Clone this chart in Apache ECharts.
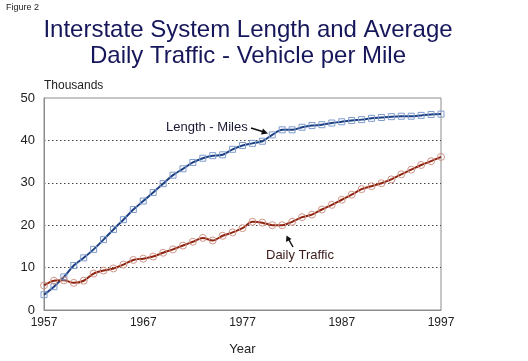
<!DOCTYPE html>
<html><head><meta charset="utf-8">
<script src="https://cdn.jsdelivr.net/npm/echarts@6/dist/echarts.min.js"></script>
<style>html,body{margin:0;padding:0;background:#fff}#c{width:528px;height:361px}</style>
</head><body><div id="c"></div>
<script>
const years = [];
for (let y = 1957; y <= 1997; y++) years.push(String(y));
const lengthMiles = [3.6,5.5,7.8,10.5,12.3,14.3,16.6,19.0,21.3,23.7,25.7,27.7,29.8,31.8,33.3,34.8,35.8,36.4,36.6,37.9,38.8,39.3,39.8,41.3,42.5,42.5,43.1,43.5,43.7,44.1,44.4,44.7,44.9,45.2,45.4,45.6,45.7,45.7,45.9,46.1,46.2];
const dailyTraffic = [5.8,6.9,7.0,6.4,6.9,8.6,9.3,9.8,10.7,11.8,12.1,12.6,13.5,14.3,15.2,16.1,17.0,16.4,17.5,18.3,19.3,20.8,20.6,20.0,20.0,20.8,21.9,22.5,23.7,24.8,26.0,27.2,28.5,29.2,29.9,30.8,32.0,33.1,34.2,35.1,36.1];
const yTicks = [0,10,20,30,40,50];
const titleLines = ['Interstate System Length and Average','Daily Traffic - Vehicle per Mile'];

const chart = echarts.init(document.getElementById('c'));
const F = 'Liberation Sans, Arial, sans-serif';
chart.setOption({
  animation: false,
  backgroundColor: '#fff',
  title: {
    text: titleLines.join('\n'), left: 243, textAlign: 'center', top: 12,
    textStyle: {fontFamily: F, fontSize: 24, fontWeight: 'normal', color: '#16165a', lineHeight: 26}
  },
  grid: {left: 44, right: 87, top: 98, bottom: 44, show: true, borderColor: '#8c8c8c', borderWidth: 1},
  xAxis: {
    type: 'category', data: years, boundaryGap: false,
    name: 'Year', nameLocation: 'middle', nameGap: 33,
    nameTextStyle: {fontFamily: F, fontSize: 13, color: '#222'},
    axisLine: {show: true, lineStyle: {color: '#8c8c8c'}},
    axisTick: {show: false},
    axisLabel: {interval: 9, fontFamily: F, fontSize: 12, color: '#222', margin: 7},
    splitLine: {show: false}
  },
  yAxis: {
    type: 'value', min: yTicks[0], max: yTicks[yTicks.length-1], interval: 10,
    name: 'Thousands', nameLocation: 'end', nameGap: 6,
    nameTextStyle: {fontFamily: F, fontSize: 12, color: '#222', align: 'left'},
    axisLine: {show: true, lineStyle: {color: '#8c8c8c'}},
    axisTick: {show: false},
    axisLabel: {fontFamily: F, fontSize: 13, color: '#222', margin: 9},
    splitLine: {show: true, showMinLine: false, showMaxLine: false, lineStyle: {color: '#444', type: [1.5,2.5], width: 1}}
  },
  series: [
    {
      name: 'Length - Miles', type: 'line', data: lengthMiles, smooth: 0.3,
      symbol: 'rect', symbolSize: 6, showAllSymbol: true,
      itemStyle: {color: 'rgba(255,255,255,0)', borderColor: '#7f9ccc', borderWidth: 1},
      lineStyle: {color: '#1c3f82', width: 2}, z: 3
    },
    {
      name: 'Daily Traffic', type: 'line', data: dailyTraffic, smooth: 0.3,
      symbol: 'circle', symbolSize: 7, showAllSymbol: true,
      itemStyle: {color: 'rgba(255,255,255,0)', borderColor: '#cf958a', borderWidth: 1},
      lineStyle: {color: '#8e2410', width: 2}, z: 3
    }
  ],
  graphic: [
    {type: 'text', left: 6, top: 3, style: {text: 'Figure 2', font: '9px ' + F, fill: '#222'}},
    {type: 'text', left: 166, top: 121, style: {text: 'Length - Miles', font: '13px ' + F, fill: '#1a1a33'}},
    {type: 'line', shape: {x1: 251, y1: 128, x2: 264, y2: 132}, style: {stroke: '#111', lineWidth: 1.5}},
    {type: 'polygon', shape: {points: [[268,133.5],[261,134.5],[263,128.5]]}, style: {fill: '#111'}},
    {type: 'text', left: 266, top: 249, style: {text: 'Daily Traffic', font: '13px ' + F, fill: '#3a1a1a'}},
    {type: 'line', shape: {x1: 293, y1: 247, x2: 289, y2: 240}, style: {stroke: '#111', lineWidth: 1.5}},
    {type: 'polygon', shape: {points: [[286.5,235.5],[286,242],[291.5,239]]}, style: {fill: '#111'}}
  ]
});
</script></body></html>
